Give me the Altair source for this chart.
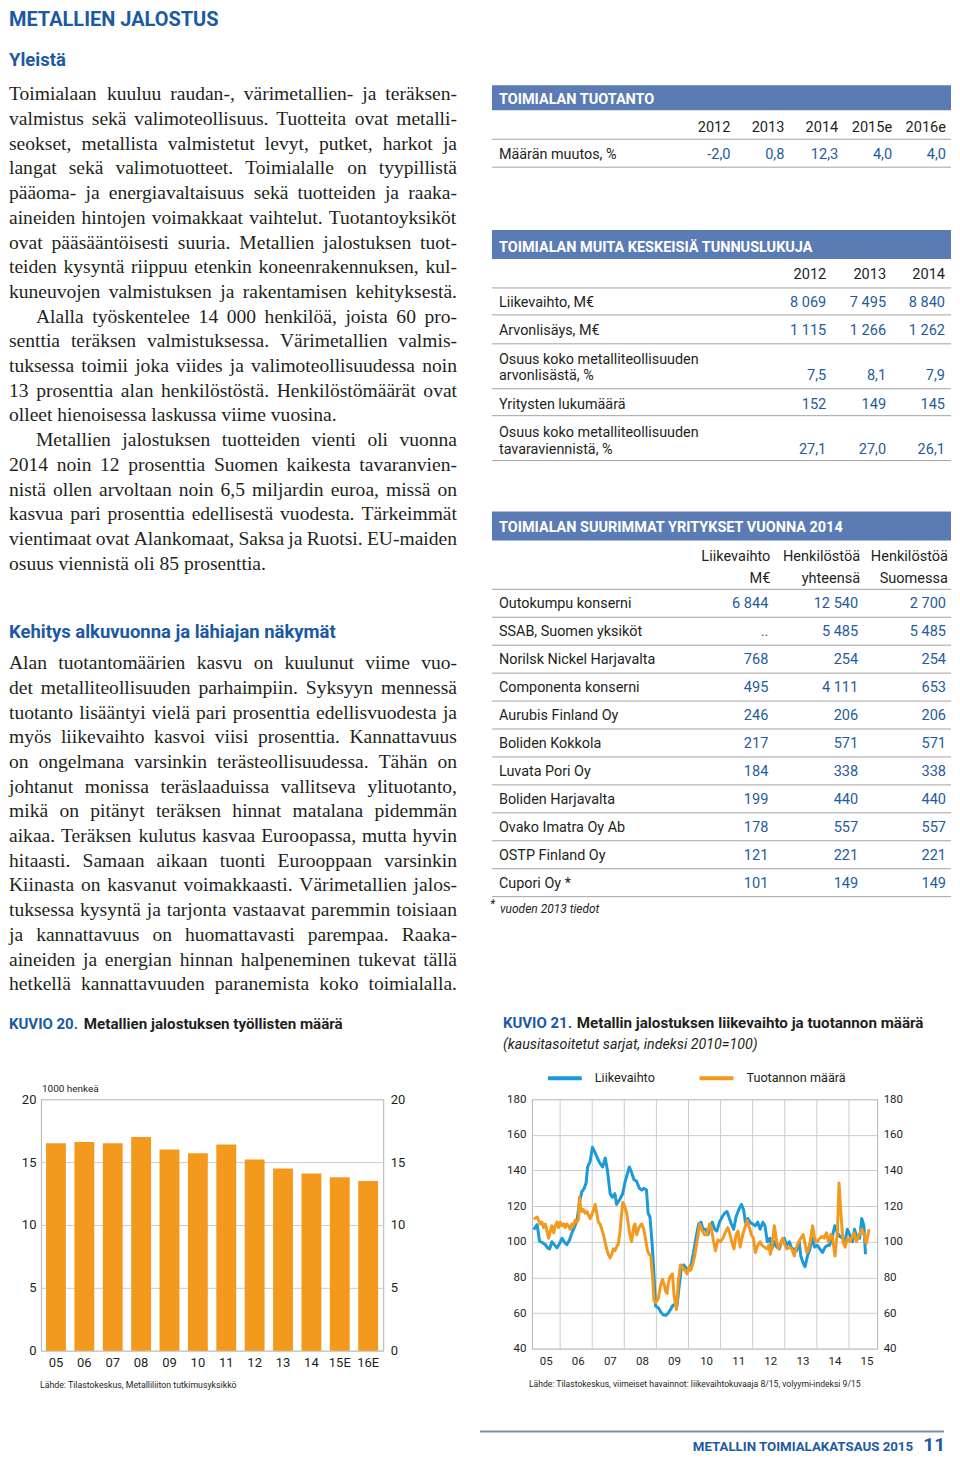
import altair as alt
import pandas as pd
import numpy as np

# ---------------- styling constants ----------------
SANS = "Roboto, 'Liberation Sans', sans-serif"
SERIF = "'Liberation Serif', 'DejaVu Serif', serif"
INK = "#231f20"
BLUE = "#1b5aa2"
VBLUE = "#1f5c9e"
BARBLUE = "#5b7bb4"
RULE = "#a3a3a3"
GRID = "#cccccc"
BORDER = "#b3b3b3"
ORANGE = "#f39a1e"
CYAN = "#1a9ad6"
FOOT = "#7f8ea6"

# ---------------- text content ----------------
page_title = "METALLIEN JALOSTUS"
head_general = "Yleistä"
general_lines = [
    "Toimialaan kuuluu raudan-, värimetallien- ja teräksen-",
    "valmistus sekä valimoteollisuus. Tuotteita ovat metalli-",
    "seokset, metallista valmistetut levyt, putket, harkot ja",
    "langat sekä valimotuotteet. Toimialalle on tyypillistä",
    "pääoma- ja energiavaltaisuus sekä tuotteiden ja raaka-",
    "aineiden hintojen voimakkaat vaihtelut. Tuotantoyksiköt",
    "ovat pääsääntöisesti suuria. Metallien jalostuksen tuot-",
    "teiden kysyntä riippuu etenkin koneenrakennuksen, kul-",
    "kuneuvojen valmistuksen ja rakentamisen kehityksestä.",
    "Alalla työskentelee 14 000 henkilöä, joista 60 pro-",
    "senttia teräksen valmistuksessa. Värimetallien valmis-",
    "tuksessa toimii joka viides ja valimoteollisuudessa noin",
    "13 prosenttia alan henkilöstöstä. Henkilöstömäärät ovat",
    "olleet hienoisessa laskussa viime vuosina.",
    "Metallien jalostuksen tuotteiden vienti oli vuonna",
    "2014 noin 12 prosenttia Suomen kaikesta tavaranvien-",
    "nistä ollen arvoltaan noin 6,5 miljardin euroa, missä on",
    "kasvua pari prosenttia edellisestä vuodesta. Tärkeimmät",
    "vientimaat ovat Alankomaat, Saksa ja Ruotsi. EU-maiden",
    "osuus viennistä oli 85 prosenttia.",
]
general_para_starts = [9, 14]
general_para_ends = [13, 19]
head_outlook = "Kehitys alkuvuonna ja lähiajan näkymät"
outlook_lines = [
    "Alan tuotantomäärien kasvu on kuulunut viime vuo-",
    "det metalliteollisuuden parhaimpiin. Syksyyn mennessä",
    "tuotanto lisääntyi vielä pari prosenttia edellisvuodesta ja",
    "myös liikevaihto kasvoi viisi prosenttia. Kannattavuus",
    "on ongelmana varsinkin terästeollisuudessa. Tähän on",
    "johtanut monissa teräslaaduissa vallitseva ylituotanto,",
    "mikä on pitänyt teräksen hinnat matalana pidemmän",
    "aikaa. Teräksen kulutus kasvaa Euroopassa, mutta hyvin",
    "hitaasti. Samaan aikaan tuonti Eurooppaan varsinkin",
    "Kiinasta on kasvanut voimakkaasti. Värimetallien jalos-",
    "tuksessa kysyntä ja tarjonta vastaavat paremmin toisiaan",
    "ja kannattavuus on huomattavasti parempaa. Raaka-",
    "aineiden ja energian hinnan halpeneminen tukevat tällä",
    "hetkellä kannattavuuden paranemista koko toimialalla.",
]

# ---------------- tables ----------------
t1_title = "TOIMIALAN TUOTANTO"
t1_years = ["2012", "2013", "2014", "2015e", "2016e"]
t1_label = "Määrän muutos, %"
t1_values = ["-2,0", "0,8", "12,3", "4,0", "4,0"]

t2_title = "TOIMIALAN MUITA KESKEISIÄ TUNNUSLUKUJA"
t2_years = ["2012", "2013", "2014"]
t2_labels = [["Liikevaihto, M€"], ["Arvonlisäys, M€"],
             ["Osuus koko metalliteollisuuden", "arvonlisästä, %"],
             ["Yritysten lukumäärä"],
             ["Osuus koko metalliteollisuuden", "tavaraviennistä, %"]]
t2_2012 = ["8 069", "1 115", "7,5", "152", "27,1"]
t2_2013 = ["7 495", "1 266", "8,1", "149", "27,0"]
t2_2014 = ["8 840", "1 262", "7,9", "145", "26,1"]

t3_title = "TOIMIALAN SUURIMMAT YRITYKSET VUONNA 2014"
t3_heads = [["Liikevaihto", "M€"], ["Henkilöstöä", "yhteensä"], ["Henkilöstöä", "Suomessa"]]
t3_companies = ["Outokumpu konserni", "SSAB, Suomen yksiköt", "Norilsk Nickel Harjavalta",
                "Componenta konserni", "Aurubis Finland Oy", "Boliden Kokkola", "Luvata Pori Oy",
                "Boliden Harjavalta", "Ovako Imatra Oy Ab", "OSTP Finland Oy", "Cupori Oy  *"]
t3_turnover = ["6 844", "..", "768", "495", "246", "217", "184", "199", "178", "121", "101"]
t3_staff_total = ["12 540", "5 485", "254", "4 111", "206", "571", "338", "440", "557", "221", "149"]
t3_staff_fin = ["2 700", "5 485", "254", "653", "206", "571", "338", "440", "557", "221", "149"]
t3_note = "vuoden 2013 tiedot"

# ---------------- chart 20 ----------------
k20_tag = "KUVIO 20."
k20_title = "Metallien jalostuksen työllisten määrä"
k20_unit = "1000 henkeä"
k20_source = "Lähde: Tilastokeskus, Metalliliiton tutkimusyksikkö"
years20 = ["05", "06", "07", "08", "09", "10", "11", "12", "13", "14", "15E", "16E"]
employees = [16.5, 16.6, 16.5, 17.0, 16.0, 15.7, 16.4, 15.2, 14.5, 14.1, 13.8, 13.5]

# ---------------- chart 21 ----------------
k21_tag = "KUVIO 21."
k21_title = "Metallin jalostuksen liikevaihto ja tuotannon määrä"
k21_sub = "(kausitasoitetut sarjat,  indeksi 2010=100)"
k21_source = "Lähde: Tilastokeskus, viimeiset havainnot: liikevaihtokuvaaja 8/15, volyymi-indeksi 9/15"
series_names = ["Liikevaihto", "Tuotannon määrä"]
# months counted from January 2005 (0 = Jan 2005)
liike_month = [2.1, 3.4, 4.3, 5.2, 6.5, 7.3, 8.1, 8.9, 9.8, 10.8,
               11.8, 12.7, 13.5, 14.5, 15.5, 16.4, 17.6, 18.5, 19.2, 20.1,
               21.0, 21.7, 22.3, 23.2, 24.1, 25.1, 25.9, 26.9, 27.9, 28.9,
               29.7, 30.7, 31.5, 32.5, 33.1, 34.4, 35.4, 36.2, 37.1, 37.9,
               38.7, 39.6, 40.6, 41.6, 42.5, 43.3, 44.3, 44.9, 45.6, 46.4,
               47.0, 47.7, 48.7, 49.5, 50.5, 51.5, 52.4, 53.3, 54.0, 54.9,
               55.7, 56.5, 57.3, 58.2, 59.2, 60.2, 61.1, 61.9, 62.9, 63.8,
               64.7, 65.4, 66.4, 67.3, 68.1, 68.9, 69.8, 70.6, 71.6, 72.6,
               73.5, 74.4, 75.1, 76.0, 76.9, 77.8, 78.8, 79.8, 80.6, 81.3,
               82.2, 83.0, 84.0, 85.0, 85.9, 86.8, 87.8, 88.6, 89.5, 90.5,
               91.2, 92.1, 93.0, 94.0, 94.8, 95.8, 96.7, 97.7, 98.7, 99.6,
               100.4, 101.4, 102.0, 102.9, 103.6, 104.5, 105.4, 106.4, 107.2, 108.2,
               109.1, 110.1, 111.1, 112.0, 112.8, 113.8, 114.7, 115.7, 116.6, 117.6,
               118.5, 119.4, 120.3, 121.3, 122.1, 123.1, 124.0, 124.8, 125.6, 126.2]
liike_value = [106.8, 109.6, 100.3, 99.7, 98.4, 96.6, 96, 100, 98.4, 96.6,
               99, 102, 100, 98.4, 101, 105, 109, 114, 122, 128,
               130, 133, 142, 145, 153, 150, 147, 144, 142, 147,
               140, 127, 125, 127, 121, 124, 127, 133, 138, 142,
               139, 135, 134, 130, 129, 130, 129, 116, 114, 99,
               84, 64, 63, 61, 59, 58.7, 60, 62, 64, 65,
               64, 75, 85, 87, 85, 84, 88, 94, 103, 110,
               111, 107, 107, 104, 109, 111, 107, 106, 111, 114,
               116, 117, 114, 110, 107, 114, 118, 121, 118, 111,
               113, 111, 110, 109, 111, 107, 111, 109, 100, 102,
               96, 100, 97, 96, 100, 102, 98, 100, 96, 96,
               95, 100, 92, 88, 86, 92, 96, 102, 97, 98,
               96, 94, 97, 98, 98, 103, 109, 105, 103, 102,
               100, 107, 104, 100, 107, 102, 102, 113, 109, 93]
tuot_month = [2.1, 3.4, 4.0, 4.6, 5.2, 5.8, 6.5, 7.1, 7.7, 8.3,
              8.9, 9.6, 10.2, 10.8, 11.4, 12.0, 12.7, 13.3, 13.9, 14.5,
              15.1, 15.8, 16.4, 17.0, 17.6, 18.3, 18.9, 19.2, 19.5, 20.1,
              20.7, 21.4, 22.0, 22.6, 23.2, 23.8, 24.5, 25.1, 25.7, 26.3,
              26.9, 27.6, 28.2, 28.8, 29.4, 30.0, 30.7, 31.3, 31.9, 32.5,
              33.1, 33.8, 34.4, 35.0, 35.4, 35.9, 36.3, 36.9, 37.5, 38.1,
              38.7, 39.1, 39.6, 40.0, 40.6, 41.5, 42.5, 43.3, 44.1, 44.7,
              45.3, 45.9, 46.6, 47.1, 47.8, 48.7, 49.5, 50.3, 51.1, 51.5,
              52.0, 52.4, 53.0, 54.0, 54.6, 55.5, 56.2, 57.0, 57.7, 58.6,
              59.5, 60.2, 60.8, 61.7, 62.3, 63.2, 64.2, 65.2, 66.0, 66.9,
              67.9, 68.5, 69.4, 70.1, 71.0, 71.9, 72.9, 73.7, 74.7, 75.4,
              76.2, 77.0, 77.8, 78.5, 79.3, 80.3, 81.1, 81.9, 82.8, 83.5,
              84.3, 85.0, 85.9, 86.8, 87.5, 88.4, 89.3, 90.0, 90.6, 91.2,
              92.1, 93.0, 93.7, 94.6, 95.2, 96.1, 96.8, 97.7, 98.6, 99.6,
              100.2, 101.2, 102.0, 102.9, 103.7, 104.3, 104.9, 105.5, 106.4, 107.3,
              108.2, 109.1, 109.9, 110.7, 111.6, 112.3, 113.2, 113.8, 114.8, 115.7,
              116.3, 116.9, 117.8, 118.6, 119.4, 120.3, 121.0, 121.9, 122.8, 123.8,
              124.8, 125.6, 126.5, 127.5]
tuot_value = [112.8, 113.9, 112, 110, 111, 108, 110, 106, 102, 106,
              109, 105, 109, 111, 108, 111, 109, 110, 108, 110,
              109, 107, 110, 109, 112, 111, 113, 125, 121, 117,
              118, 116, 117, 115, 113, 115, 118, 121, 116, 111,
              110, 107, 104, 100, 96, 93, 91, 93, 96, 95,
              97, 99, 106, 116, 122, 121, 119, 116, 110, 104,
              100, 104, 109, 110, 104, 108, 110, 107, 100, 95,
              93, 92, 80, 67, 66, 68, 75, 79, 75, 72,
              71, 76, 80, 82, 70, 62, 78, 87, 86, 84,
              82, 86, 84, 88, 92, 100, 110, 106, 104, 104,
              110, 108, 100, 95, 101, 100, 102, 105, 108, 105,
              100, 96, 104, 106, 97, 104, 108, 112, 108, 104,
              102, 94, 98, 100, 98, 97, 96, 98, 93, 97,
              109, 100, 96, 100, 102, 98, 96, 97, 96, 92,
              96, 100, 102, 104, 98, 94, 96, 100, 109, 101,
              100, 102, 103, 102, 105, 100, 104, 103, 92, 106,
              133, 118, 100, 97, 102, 100, 102, 105, 100, 104,
              107, 104, 99, 107]

footer_text = "METALLIN TOIMIALAKATSAUS  2015"
page_number = "11"

# ======================================================================
# Justified body text: approximate advance widths of Liberation Serif (per 1000 em)
# ======================================================================
ADV = {" ": 250, "!": 333, "%": 833, ",": 250, "-": 333, ".": 250, ":": 278, "=": 564,
       "(": 333, ")": 333, "*": 500}
ADV.update({d: 500 for d in "0123456789"})
ADV.update(dict(zip("ABCDEFGHIJKLMNOPQRSTUVWXYZ",
                    [722, 667, 667, 722, 611, 556, 722, 722, 333, 389, 722, 611, 889, 722, 722,
                     556, 722, 667, 556, 611, 722, 722, 944, 722, 722, 611])))
ADV.update(dict(zip("abcdefghijklmnopqrstuvwxyz",
                    [444, 500, 444, 500, 444, 333, 500, 500, 278, 278, 500, 278, 778, 500, 500,
                     500, 500, 333, 389, 278, 500, 500, 722, 500, 500, 444])))
ADV.update({"ä": 444, "ö": 500, "å": 444, "Ä": 722, "Ö": 722})
BODY_FS = 19.6
COL_W = 449


def word_w(w):
    return sum(ADV.get(ch, 500) for ch in w) / 1000.0 * BODY_FS


items = []


def put(style, x, y, text):
    items.append({"style": style, "x": x, "y": y, "text": text})


def put_line(x0, y, line, justify):
    words = line.split(" ")
    widths = [word_w(w) for w in words]
    gap = ADV[" "] / 1000.0 * BODY_FS
    if justify and len(words) > 1:
        gap = (COL_W - x0 - sum(widths)) / (len(words) - 1)
    x = x0
    for w, ww in zip(words, widths):
        put("body", x, y, w)
        x += ww + gap


# ======================================================================
# Top panel: text and tables (pixel layout, identity scales)
# ======================================================================
W_TOP, H_TOP = 944, 1091
LH = 24.75
put("h1", 0, 16, page_title)
put("h2", 0, 56, head_general)
for i, line in enumerate(general_lines):
    put_line(27 if i in general_para_starts else 0, 90 + LH * i, line, i not in general_para_ends)
put("h2", 0, 629, head_outlook)
for i, line in enumerate(outlook_lines):
    put_line(0, 660 + LH * i, line, True)

# chart titles
put("kb", 0, 1021, k20_tag)
put("kt", 75, 1021, k20_title)
put("small", 33, 1084, k20_unit)
put("kb", 495, 1020, k21_tag)
put("kt", 569, 1020, k21_title)
put("ks", 495, 1041, k21_sub)

# table 1
TL = 491
put("bar", TL, 94, t1_title)
t1_right = [723, 777, 831, 885, 939]
for xr, yr, val in zip(t1_right, t1_years, t1_values):
    put("thead", xr, 122, yr)
    put("tval", xr, 149, val)
put("tlabel", TL, 149, t1_label)

# table 2
put("bar", TL, 242, t2_title)
t2_right = [819, 879, 938]
for xr, yr in zip(t2_right, t2_years):
    put("thead", xr, 269, yr)
t2_base = [[297], [325], [354, 370.5], [399], [427, 444]]
for lab, base, a, b, c in zip(t2_labels, t2_base, t2_2012, t2_2013, t2_2014):
    for ln, yb in zip(lab, base):
        put("tlabel", TL, yb, ln)
    for xr, v in zip(t2_right, [a, b, c]):
        put("tval", xr, base[-1], v)

# table 3
put("bar", TL, 523, t3_title)
t3_right = [763, 853, 941]
for xr, hd in zip(t3_right, t3_heads):
    put("thead", xr, 552, hd[0])
    put("thead", xr, 574, hd[1])
for k, (name, a, b, c) in enumerate(zip(t3_companies, t3_turnover, t3_staff_total, t3_staff_fin)):
    yb = 599 + 28 * k
    put("tlabel", TL, yb, name)
    put("tval", t3_right[0] - 2, yb, a)
    put("tval", t3_right[1] - 2, yb, b)
    put("tval", t3_right[2] - 2, yb, c)
put("note", 482, 899, "*")
put("note", 492, 904, t3_note)

text_df = pd.DataFrame(items)

STYLES = {
    "h1": dict(font=SANS, fontSize=20, fontWeight="bold", color=BLUE, align="left"),
    "h2": dict(font=SANS, fontSize=18.5, fontWeight="bold", color=BLUE, align="left"),
    "body": dict(font=SERIF, fontSize=BODY_FS, color=INK, align="left"),
    "bar": dict(font=SANS, fontSize=14.5, fontWeight="bold", color="white", align="left"),
    "thead": dict(font=SANS, fontSize=14.6, color=INK, align="right"),
    "tlabel": dict(font=SANS, fontSize=14.4, color=INK, align="left"),
    "tval": dict(font=SANS, fontSize=14.6, color=VBLUE, align="right"),
    "note": dict(font=SANS, fontSize=12, fontStyle="italic", color=INK, align="left"),
    "kb": dict(font=SANS, fontSize=15, fontWeight="bold", color=BLUE, align="left"),
    "kt": dict(font=SANS, fontSize=15.2, fontWeight="bold", color=INK, align="left"),
    "ks": dict(font=SANS, fontSize=14.3, fontStyle="italic", color=INK, align="left"),
    "small": dict(font=SANS, fontSize=10, color=INK, align="left"),
}

px = alt.X("x:Q", scale=None, axis=None)
py = alt.Y("y:Q", scale=None, axis=None)

rect_df = pd.DataFrame({"x": [484, 484, 484], "x2": [944, 944, 944],
                        "y": [75, 220, 502], "y2": [100, 249, 531]})
rect_layer = alt.Chart(rect_df).mark_rect(color=BARBLUE).encode(
    x=px, x2="x2:Q", y=py, y2="y2:Q")

rule_y = [129, 157, 278, 305, 334, 379, 406, 451, 580] + [608 + 28 * k for k in range(11)]
rule_df = pd.DataFrame({"x": [484] * len(rule_y), "x2": [944] * len(rule_y), "y": rule_y})
rule_layer = alt.Chart(rule_df).mark_rule(color=RULE, strokeWidth=1).encode(
    x=px, x2="x2:Q", y=py)

text_layers = []
for key, st in STYLES.items():
    text_layers.append(
        alt.Chart(text_df).transform_filter(alt.datum.style == key)
        .mark_text(baseline="alphabetic", **st)
        .encode(x=px, y=py, text=alt.Text("text:N"))
    )

top_panel = alt.layer(rect_layer, rule_layer, *text_layers).properties(width=W_TOP, height=H_TOP)

# ======================================================================
# Chart 20: employees (bars)
# ======================================================================
df20 = pd.DataFrame({"yr": years20, "v": employees})


def y20(orient, grid, pad):
    return alt.Y("v:Q", scale=alt.Scale(domain=[0, 20], nice=False),
                 axis=alt.Axis(orient=orient, values=[0, 5, 10, 15, 20], grid=grid, gridColor=GRID,
                               ticks=False, domain=False, labelPadding=pad, labelFontSize=13,
                               labelFont=SANS, labelColor=INK, title=None))


x20 = alt.X("yr:N", sort=years20, scale=alt.Scale(paddingInner=0.3, paddingOuter=0.18),
            axis=alt.Axis(labelAngle=0, ticks=False, domain=False, labelPadding=6, labelFontSize=13,
                          labelFont=SANS, labelColor=INK, title=None))

bars = alt.Chart(df20).mark_bar(color=ORANGE).encode(x=x20, y=y20("left", True, 5))
bars_r = alt.Chart(df20).mark_bar(opacity=0).encode(x=x20, y=y20("right", False, 7))
src20 = alt.Chart(pd.DataFrame({"t": [k20_source]})).mark_text(
    align="left", baseline="alphabetic", font=SANS, fontSize=8.8, color=INK
).encode(x=alt.value(-1), y=alt.value(289), text="t:N")

c20 = alt.layer(bars, bars_r, src20).resolve_axis(y="independent").properties(
    width=343, height=252, view=alt.ViewBackground(stroke=BORDER, strokeWidth=1))

# ======================================================================
# Chart 21: turnover and production index (lines)
# ======================================================================
liike = pd.DataFrame({"t": 2005 + np.array(liike_month) / 12.0, "v": liike_value, "s": series_names[0]})
tuot = pd.DataFrame({"t": 2005 + np.array(tuot_month) / 12.0, "v": tuot_value, "s": series_names[1]})
grid_years = pd.DataFrame({"t": list(range(2006, 2016))})
label_pos = [yr + 0.55 for yr in range(2005, 2016)]

x21 = alt.X("t:Q", scale=alt.Scale(domain=[2005.12, 2015.88], nice=False, zero=False),
            axis=alt.Axis(values=label_pos, labelExpr="format(floor(datum.value) - 2000, '02')",
                          grid=False, ticks=False, domain=False, labelPadding=7, labelFontSize=11.5,
                          labelFont=SANS, labelColor=INK, title=None))


def y21(orient, grid):
    return alt.Y("v:Q", scale=alt.Scale(domain=[40, 180], nice=False, zero=False),
                 axis=alt.Axis(orient=orient, values=list(range(40, 181, 20)), grid=grid, gridColor=GRID,
                               ticks=False, domain=False, labelPadding=6, labelFontSize=11.5,
                               labelFont=SANS, labelColor=INK, title=None))


color21 = alt.Color("s:N", scale=alt.Scale(domain=series_names, range=[CYAN, ORANGE]),
                    legend=alt.Legend(orient="none", legendX=14, legendY=-40, direction="horizontal",
                                      title=None, symbolType="stroke", symbolStrokeWidth=4,
                                      symbolSize=1150, labelFont=SANS, labelFontSize=12.7,
                                      labelColor=INK, labelOffset=11, columnPadding=36))

vgrid = alt.Chart(grid_years).mark_rule(color=GRID, strokeWidth=1).encode(x=x21)
line_l = alt.Chart(liike).mark_line(strokeWidth=3, strokeJoin="round").encode(
    x=x21, y=y21("left", True), color=color21)
line_t = alt.Chart(tuot).mark_line(strokeWidth=3, strokeJoin="round").encode(
    x=x21, y=y21("right", False), color=color21)
src21 = alt.Chart(pd.DataFrame({"t": [k21_source]})).mark_text(
    align="left", baseline="alphabetic", font=SANS, fontSize=8.6, color=INK
).encode(x=alt.value(-3), y=alt.value(288), text="t:N")
foot_rule = alt.Chart(pd.DataFrame({"a": [0]})).mark_rule(color=FOOT, strokeWidth=2).encode(
    x=alt.value(-52), x2=alt.value(413), y=alt.value(333))
foot_txt = alt.Chart(pd.DataFrame({"t": [footer_text]})).mark_text(
    align="right", baseline="alphabetic", font=SANS, fontSize=13.3, fontWeight="bold", color=BLUE
).encode(x=alt.value(382), y=alt.value(353), text="t:N")
foot_num = alt.Chart(pd.DataFrame({"t": [page_number]})).mark_text(
    align="right", baseline="alphabetic", font=SANS, fontSize=19, fontWeight="bold", color=BLUE
).encode(x=alt.value(414), y=alt.value(353), text="t:N")

c21 = alt.layer(vgrid, line_l, line_t, src21, foot_rule, foot_txt, foot_num).resolve_axis(
    y="independent").properties(width=346, height=250,
                                view=alt.ViewBackground(stroke=BORDER, strokeWidth=1))

# ======================================================================
# Page assembly
# ======================================================================
spacer = alt.Chart(pd.DataFrame({"a": [0]})).mark_point(opacity=0, size=4).encode(
    x=alt.value(16), y=alt.value(5)).properties(width=32, height=10)

charts_row = alt.hconcat(c20, c21, spacing=149, bounds="flush").resolve_scale(
    color="independent").resolve_legend(color="independent")
row = alt.hconcat(spacer, charts_row, spacing=0, bounds="flush").resolve_scale(
    color="independent").resolve_legend(color="independent")

chart = alt.vconcat(top_panel, row, spacing=0, bounds="flush").resolve_scale(
    color="independent").resolve_legend(color="independent").properties(
    padding=0, background="white"
).configure_view(stroke="transparent")

chart.save("out.html", embed_options={"renderer": "svg", "actions": False})
